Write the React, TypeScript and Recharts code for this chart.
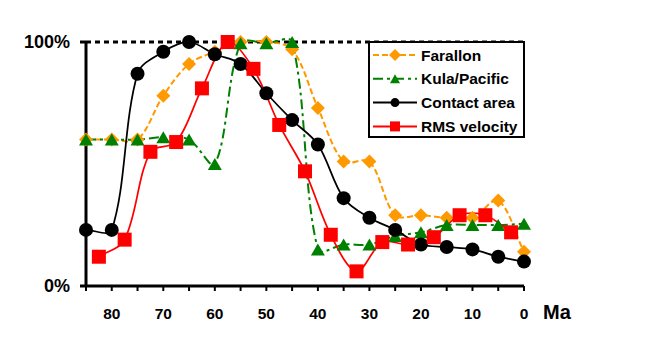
import { LineChart, Line, XAxis, YAxis, CartesianGrid } from "recharts";

// ages (Ma) for the three 5-Myr series, and the mid-bin ages of the RMS velocity series
const maSteps = [85, 80, 75, 70, 65, 60, 55, 50, 45, 40, 35, 30, 25, 20, 15, 10, 5, 0];
const farallon = [60, 60, 60, 78, 91, 96, 100, 100, 97, 73, 51, 51, 29, 29, 28, 28, 35, 14];
const kulaPacific = [60, 60, 60, 61, 60, 50, 99.5, 99.5, 100, 15, 17, 17, 20.5, 22, 25, 25, 25, 25.5];
const contactArea = [23, 23, 87, 96, 100, 95, 91, 79, 68, 58, 36, 28, 23, 17, 16, 15, 12, 10];

const rmsMa = [82.5, 77.5, 72.5, 67.5, 62.5, 57.5, 52.5, 47.5, 42.5, 37.5, 32.5, 27.5, 22.5, 17.5, 12.5, 7.5, 2.5];
const rmsVelocity = [12, 19, 55, 59, 81, 100, 89, 66, 47, 21, 6, 18, 17, 20, 29, 29, 22];

const xTicks = [85, 80, 75, 70, 65, 60, 55, 50, 45, 40, 35, 30, 25, 20, 15, 10, 5, 0];
const yTicks = [0, 100];

const ORANGE = "#FF9900";
const GREEN = "#008000";
const RED = "#FF0000";
const FONT = "'Liberation Sans', Arial, sans-serif";

const toRows = (xs: number[], ys: number[]) => xs.map((ma, i) => ({ ma, v: ys[i] }));

// Excel-like smoothed line: bezier with tangents weighted by chord length
const excelSmooth = (context: any) => {
  let xs: number[] = [];
  let ys: number[] = [];
  const dist = (a: number, b: number) => Math.hypot(xs[b] - xs[a], ys[b] - ys[a]);
  return {
    areaStart() {},
    areaEnd() {},
    lineStart() {
      xs = [];
      ys = [];
    },
    point(x: number, y: number) {
      xs.push(+x);
      ys.push(+y);
    },
    lineEnd() {
      const n = xs.length;
      if (!n) return;
      context.moveTo(xs[0], ys[0]);
      for (let i = 0; i < n - 1; i++) {
        const i0 = Math.max(i - 1, 0);
        const i3 = Math.min(i + 2, n - 1);
        const d01 = dist(i0, i);
        const d12 = dist(i, i + 1);
        const d23 = dist(i + 1, i3);
        const f1 = d12 / (d01 + d12 || 1) / 3;
        const f2 = d12 / (d12 + d23 || 1) / 3;
        const c1x = xs[i] + (xs[i + 1] - xs[i0]) * f1;
        const c1y = ys[i] + (ys[i + 1] - ys[i0]) * f1;
        const c2x = xs[i + 1] - (xs[i3] - xs[i]) * f2;
        const c2y = ys[i + 1] - (ys[i3] - ys[i]) * f2;
        context.bezierCurveTo(c1x, c1y, c2x, c2y, xs[i + 1], ys[i + 1]);
      }
    },
  };
};

const diamond = (cx: number, cy: number, r: number, fill: string, key?: string) => (
  <path key={key} d={`M${cx},${cy - r}L${cx + r},${cy}L${cx},${cy + r}L${cx - r},${cy}Z`} fill={fill} />
);
const triangle = (cx: number, cy: number, w: number, h: number, fill: string, key?: string) => (
  <path key={key} d={`M${cx},${cy - h / 2}L${cx + w / 2},${cy + h / 2}L${cx - w / 2},${cy + h / 2}Z`} fill={fill} />
);
const square = (cx: number, cy: number, s: number, fill: string, key?: string) => (
  <rect key={key} x={cx - s / 2} y={cy - s / 2} width={s} height={s} fill={fill} />
);
const circle = (cx: number, cy: number, r: number, fill: string, key?: string) => (
  <circle key={key} cx={cx} cy={cy} r={r} fill={fill} />
);

const legendItems = [
  { name: "Farallon", color: ORANGE, dash: "6 3", mark: (x: number, y: number) => diamond(x, y, 6, ORANGE) },
  { name: "Kula/Pacific", color: GREEN, dash: "10 4 3 4", mark: (x: number, y: number) => triangle(x, y, 10, 9, GREEN) },
  { name: "Contact area", color: "#000", dash: undefined, mark: (x: number, y: number) => circle(x, y, 4.5, "#000") },
  { name: "RMS velocity", color: RED, dash: undefined, mark: (x: number, y: number) => square(x, y, 10, RED) },
];

function ChartLegend() {
  return (
    <div
      style={{
        position: "absolute",
        left: 368,
        top: 41,
        width: 153,
        height: 93,
        border: "2px solid #000",
        background: "#fff",
      }}
    >
      <svg width={153} height={93} style={{ display: "block" }}>
        {legendItems.map((it, i) => {
          const y = 12 + i * 23.8;
          return (
            <g key={it.name}>
              <line x1={3} x2={47} y1={y} y2={y} stroke={it.color} strokeWidth={2} strokeDasharray={it.dash} />
              {it.mark(25, y)}
              <text x={51} y={y} dy="0.36em" fontFamily={FONT} fontWeight="bold" fontSize={15.5} fill="#000">
                {it.name}
              </text>
            </g>
          );
        })}
      </svg>
    </div>
  );
}

export default function App() {
  return (
    <div style={{ position: "fixed", left: 0, top: 0, width: 646, height: 354, background: "#fff" }}>
      <LineChart width={646} height={354} margin={{ top: 42, right: 122, bottom: 0, left: 0 }}>
        <CartesianGrid vertical={false} horizontalValues={[100]} stroke="#000" strokeWidth={3} strokeDasharray="5 4" />
        <XAxis
          type="number"
          dataKey="ma"
          domain={[0, 85]}
          reversed
          ticks={xTicks}
          interval={0}
          height={68}
          tickSize={5}
          tickMargin={17}
          tickFormatter={(v: number) => (v % 10 === 0 ? String(v) : "")}
          axisLine={{ stroke: "#000", strokeWidth: 3 }}
          tickLine={{ stroke: "#000", strokeWidth: 2 }}
          tick={{ fill: "#000", fontFamily: FONT, fontWeight: "bold", fontSize: 15.5 }}
          label={(props: any) => {
            const vb = props.viewBox || { x: 86, y: 286, width: 438 };
            return (
              <text x={vb.x + vb.width + 19} y={319} fontFamily={FONT} fontWeight="bold" fontSize={20} fill="#000">
                Ma
              </text>
            );
          }}
        />
        <YAxis
          type="number"
          domain={[0, 100]}
          ticks={yTicks}
          width={86}
          tickSize={6}
          tickMargin={10}
          tickFormatter={(v: number) => `${v}%`}
          axisLine={{ stroke: "#000", strokeWidth: 3 }}
          tickLine={{ stroke: "#000", strokeWidth: 3 }}
          tick={{ fill: "#000", fontFamily: FONT, fontWeight: "bold", fontSize: 18 }}
        />
        <Line
          data={toRows(maSteps, farallon)}
          dataKey="v"
          type={excelSmooth as any}
          stroke={ORANGE}
          strokeWidth={2}
          strokeDasharray="6 3"
          isAnimationActive={false}
          dot={(p: any) => diamond(p.cx, p.cy, 7, ORANGE, `f${p.index}`)}
          activeDot={false}
        />
        <Line
          data={toRows(maSteps, kulaPacific)}
          dataKey="v"
          type={excelSmooth as any}
          stroke={GREEN}
          strokeWidth={2}
          strokeDasharray="10 4 3 4"
          isAnimationActive={false}
          dot={(p: any) => triangle(p.cx, p.cy, 14, 12, GREEN, `k${p.index}`)}
          activeDot={false}
        />
        <Line
          data={toRows(maSteps, contactArea)}
          dataKey="v"
          type={excelSmooth as any}
          stroke="#000"
          strokeWidth={1.75}
          isAnimationActive={false}
          dot={(p: any) => circle(p.cx, p.cy, 7, "#000", `c${p.index}`)}
          activeDot={false}
        />
        <Line
          data={toRows(rmsMa, rmsVelocity)}
          dataKey="v"
          type={excelSmooth as any}
          stroke={RED}
          strokeWidth={1.75}
          isAnimationActive={false}
          dot={(p: any) => square(p.cx, p.cy, 14, RED, `r${p.index}`)}
          activeDot={false}
        />
      </LineChart>
      <ChartLegend />
    </div>
  );
}
